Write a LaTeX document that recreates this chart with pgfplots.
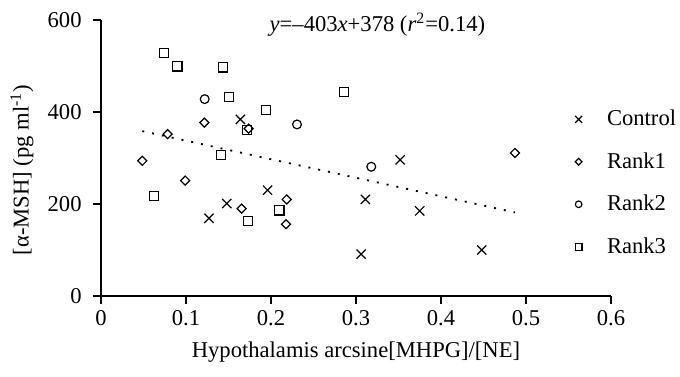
\documentclass[border=0pt]{standalone}
\usepackage{fontspec}
\setmainfont{Liberation Serif}
\usepackage{pgfplots}
\pgfplotsset{compat=1.18}
\begin{document}
\begin{tikzpicture}[font=\fontsize{11.3}{13.6}\selectfont]
\begin{axis}[
  at={(0,0)}, anchor=south west,
  scale only axis, width=255pt, height=138pt,
  xmin=0, xmax=0.6, ymin=0, ymax=600,
  clip=false,
  axis x line*=bottom, axis y line*=left,
  axis line style={line width=1.25pt, black},
  xtick={0,0.1,0.2,0.3,0.4,0.5,0.6}, ytick={0,200,400,600},
  tick align=outside, major tick length=4pt,
  every tick/.style={line width=1.25pt, black},
  /pgf/number format/assume math mode=true,
  xticklabel style={anchor=base, inner sep=0pt},
  yticklabel style={anchor=east, inner sep=0pt},
  xticklabel shift=10.9pt,
  yticklabel shift=5.5pt,
  xlabel={Hypothalamis arcsine[MHPG]/[NE]},
  ylabel={[α-MSH] (pg ml\textsuperscript{-1})},
  xlabel style={at={(axis description cs:0.5,-0.203)}, anchor=center},
  ylabel style={at={(axis description cs:-0.155,0.457)}, anchor=center},
  legend style={at={(0.929,0.690)}, anchor=north west, draw=none, fill=none,
    inner sep=0pt, row sep=7.9pt, column sep=4pt, cells={anchor=west}},
  legend image code/.code={\node[draw=none, fill=none, inner sep=0pt, minimum width=8pt, minimum height=6pt] at (0pt,0pt) {};
    \draw[#1, /tikz/every mark/.append style={scale=0.75}] plot coordinates {(0pt,0pt)};},
]
\addplot[only marks, mark=x, mark size=3.25pt, black, mark options={line width=0.6pt, solid}]
coordinates {(0.127,169) (0.148,201) (0.164,384) (0.196,230) (0.306,91) (0.311,210) (0.352,296) (0.375,185) (0.448,100)};
\addlegendentry{Control}
\addplot[only marks, mark=square, mark size=1.6pt, black, mark options={line width=0.6pt, solid, rotate=45}]
coordinates {(0.0486,294) (0.0784,352) (0.099,251) (0.1216,377) (0.1655,190) (0.1737,364) (0.2185,210) (0.2176,156) (0.487,311)};
\addlegendentry{Rank1}
\addplot[only marks, mark=o, mark size=2.2pt, black, mark options={line width=0.6pt, solid}]
coordinates {(0.122,428) (0.2306,373) (0.318,281)};
\addlegendentry{Rank2}
\addplot[only marks, mark=square, mark size=2.3pt, black, mark options={line width=0.6pt, solid}]
coordinates {(0.074,528) (0.090,499) (0.1435,497) (0.1506,432) (0.194,404) (0.172,361) (0.141,306) (0.0627,218) (0.173,163) (0.2098,186) (0.286,443)};
\addlegendentry{Rank3}
\addplot[forget plot, black, line width=0.9pt, dash pattern=on 1pt off 4pt]
coordinates {(0.0486,358.4) (0.487,181.7)};
\node at (rel axis cs:0.542,0.982) {\textit{y}=–403\textit{x}+378 (\textit{r}\textsuperscript{2}=0.14)};
\end{axis}
\pgfresetboundingbox
\path (-50.5pt,-40pt) rectangle (289.5pt,148pt);
\end{tikzpicture}
\end{document}
